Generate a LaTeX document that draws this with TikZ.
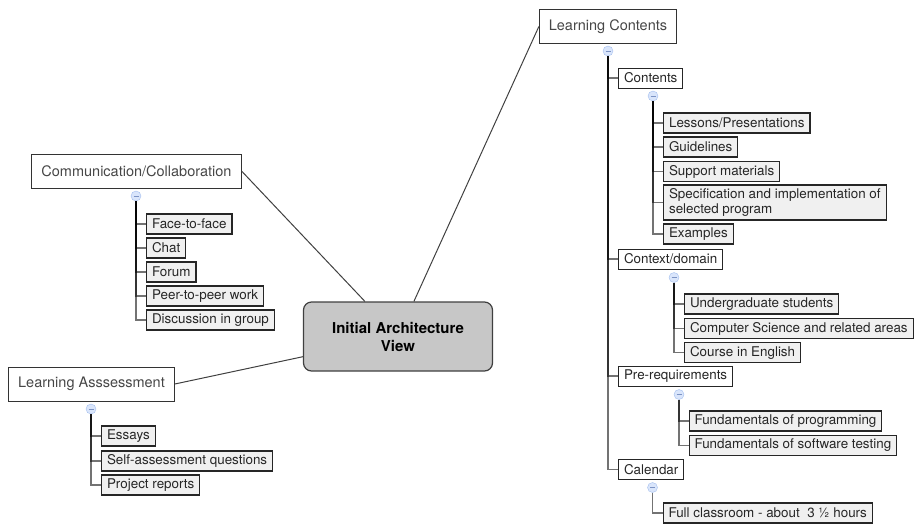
\documentclass[tikz,border=0pt]{standalone}
\usepackage{fontspec}
\setmainfont{TeX Gyre Heros}
\definecolor{toggleFill}{HTML}{D9E5FB}
\definecolor{toggleDraw}{HTML}{A3BEEE}
\definecolor{toggleBar}{HTML}{7C93C4}
\tikzset{
  topNode/.style={
    draw=black!80,
    line width=1pt,
    fill=white,
    text=black!72,
    inner xsep=9.5pt,
    minimum height=34pt,
    font=\fontsize{14.5}{17}\selectfont
  },
  midNode/.style={
    draw=black!85,
    line width=1pt,
    fill=white,
    text=black!85,
    anchor=west,
    inner xsep=5.5pt,
    inner ysep=0pt,
    minimum height=20pt,
    font=\fontsize{13.4}{15}\selectfont
  },
  leafNode/.style={midNode,fill=black!6,line width=1.1pt},
  hubNode/.style={
    draw=black!75,
    line width=1.2pt,
    fill=black!22,
    rounded corners=8pt,
    minimum width=189pt,
    minimum height=69pt,
    align=center,
    font=\fontsize{15}{18}\selectfont\bfseries
  },
  toggleNode/.style={
    circle,draw=toggleDraw,fill=toggleFill,
    minimum size=10pt,inner sep=0pt,
    path picture={\draw[toggleBar,line width=0.6pt]
      ([xshift=-2.5pt]path picture bounding box.center) --
      ([xshift=2.5pt]path picture bounding box.center);}
  },
  treeLine/.style={draw=black,opacity=0.55,line width=1.3pt},
  hubLine/.style={draw=black!75,line width=1pt}
}

\begin{document}
\begin{tikzpicture}[x=1pt,y=-1pt]
  \useasboundingbox (0,0) rectangle (916,523);

  \node[hubNode] (hub) at (398,336.5) {Initial Architecture\\View};

  \node[topNode] (comm) at (136.5,171) {Communication/Collaboration};
  \node[toggleNode] (commToggle) at (136,196) {};
  \node[leafNode] (face) at (146,224) {Face-to-face};
  \node[leafNode] (chat) at (146,248) {Chat};
  \node[leafNode] (forum) at (146,272) {Forum};
  \node[leafNode] (peer) at (146,296) {Peer-to-peer work};
  \node[leafNode] (group) at (146,320) {Discussion in group};
  \foreach \leaf in {face,chat,forum,peer,group}
    \draw[treeLine] (commToggle.south) |- (\leaf.west);

  \node[topNode] (assess) at (91.5,384) {Learning Asssessment};
  \node[toggleNode] (assessToggle) at (91,409) {};
  \node[leafNode] (essays) at (101,436) {Essays};
  \node[leafNode] (selfQ) at (101,461) {Self-assessment questions};
  \node[leafNode] (reports) at (101,485) {Project reports};
  \foreach \leaf in {essays,selfQ,reports}
    \draw[treeLine] (assessToggle.south) |- (\leaf.west);

  \node[topNode] (lc) at (608,26.5) {Learning Contents};
  \node[toggleNode] (lcToggle) at (608,51) {};
  \node[midNode] (contents) at (618,78) {Contents};
  \node[midNode] (context) at (618,259) {Context/domain};
  \node[midNode] (prereq) at (618,376) {Pre-requirements};
  \node[midNode] (calendar) at (618,469.5) {Calendar};
  \foreach \mid in {contents,context,prereq,calendar}
    \draw[treeLine] (lcToggle.south) |- (\mid.west);

  \node[toggleNode] (contentsToggle) at (653,96) {};
  \node[leafNode] (lessons) at (663,123) {Lessons/Presentations};
  \node[leafNode] (guide) at (663,147) {Guidelines};
  \node[leafNode] (support) at (663,171.5) {Support materials};
  \node[leafNode,align=left,minimum height=35pt] (spec) at (663,202.5)
    {Specification and implementation of\\selected program};
  \node[leafNode] (examples) at (663,234) {Examples};
  \foreach \leaf in {lessons,guide,support,spec,examples}
    \draw[treeLine] (contentsToggle.south) |- (\leaf.west);

  \node[toggleNode] (contextToggle) at (674,277.5) {};
  \node[leafNode] (under) at (684,304) {Undergraduate students};
  \node[leafNode] (cs) at (684,328.5) {Computer Science and related areas};
  \node[leafNode] (english) at (684,352.5) {Course in English};
  \foreach \leaf in {under,cs,english}
    \draw[treeLine] (contextToggle.south) |- (\leaf.west);

  \node[toggleNode] (prereqToggle) at (679,394.5) {};
  \node[leafNode] (prog) at (688.5,421) {Fundamentals of programming};
  \node[leafNode] (testing) at (688.5,445.5) {Fundamentals of software testing};
  \foreach \leaf in {prog,testing}
    \draw[treeLine] (prereqToggle.south) |- (\leaf.west);

  \node[toggleNode] (calendarToggle) at (652.5,487.5) {};
  \node[leafNode] (classroom) at (662.5,513) {Full classroom - about\ \ 3 ½ hours};
  \draw[treeLine] (calendarToggle.south) |- (classroom.west);

  \draw[hubLine] (comm.east) -- (hub);
  \draw[hubLine] (assess.east) -- (hub);
  \draw[hubLine] (lc.west) -- (hub);
\end{tikzpicture}
\end{document}
